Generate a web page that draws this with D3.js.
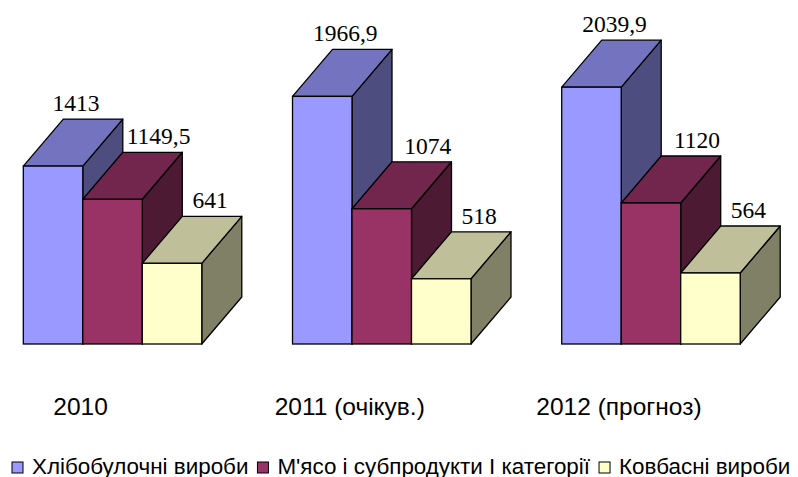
<!DOCTYPE html>
<html>
<head>
<meta charset="utf-8">
<script src="https://cdn.jsdelivr.net/npm/d3@7"></script>
<style>
  body { margin: 0; background: #fff; }
  svg { display: block; }
</style>
</head>
<body>
<svg id="chart" width="798" height="477"></svg>
<script>
// data
var years = ["2010", "2011 (очікув.)", "2012 (прогноз)"];
var seriesNames = ["Хлібобулочні вироби", "М'ясо і субпродукти І категорії", "Ковбасні вироби"];
var bread   = [1413, 1966.9, 2039.9];
var meat    = [1149.5, 1074, 1120];
var sausage = [641, 518, 564];
var valueLabels = [["1413", "1966,9", "2039,9"], ["1149,5", "1074", "1120"], ["641", "518", "564"]];

var seriesValues = [bread, meat, sausage];

// colours: front, top, side
var colors = [
    { front: "#9999ff", top: "#7373bf", side: "#4d4d80" },
    { front: "#993366", top: "#73264d", side: "#4d1a33" },
    { front: "#ffffcc", top: "#bfbf99", side: "#808066" }
];

var svg = d3.select("#chart");

var base = 344;      // floor line of the bars
var depthX = 40, depthY = 47;  // oblique depth of each box

var y = d3.scaleLinear().domain([0, 2200]).range([base, base - 2200 * 0.1259]);

// group step ~269px, front width of a group ~178px
var x = d3.scaleBand()
    .domain(years)
    .range([23.3, 23.3 + 2 * 269.2 + 178.5])
    .paddingInner(0.337)
    .paddingOuter(0)
    .align(0);

var xs = d3.scaleBand()
    .domain(d3.range(seriesNames.length))
    .range([0, x.bandwidth()]);

// label shift from front centre, per series (Excel nudged them off the boxes)
var labelShift = [23, 46, 38];

years.forEach(function(yr, gi) {
    var g = svg.append("g");
    seriesValues.forEach(function(vals, si) {
        var x0 = x(yr) + xs(si), x1 = x0 + xs.bandwidth();
        var yt = y(vals[gi]);
        var c = colors[si];
        var pts = function(arr) { return arr.map(function(p) { return p.join(","); }).join(" "); };
        // side
        g.append("polygon")
            .attr("points", pts([[x1, yt], [x1 + depthX, yt - depthY], [x1 + depthX, base - depthY], [x1, base]]))
            .attr("fill", c.side).attr("stroke", "#000").attr("stroke-width", 1.3).attr("stroke-linejoin", "round");
        // top
        g.append("polygon")
            .attr("points", pts([[x0, yt], [x0 + depthX, yt - depthY], [x1 + depthX, yt - depthY], [x1, yt]]))
            .attr("fill", c.top).attr("stroke", "#000").attr("stroke-width", 1.3).attr("stroke-linejoin", "round");
        // front
        g.append("rect")
            .attr("x", x0).attr("y", yt)
            .attr("width", x1 - x0).attr("height", base - yt)
            .attr("fill", c.front).attr("stroke", "#000").attr("stroke-width", 1.3);
    });
    // value labels on top of everything in the group
    seriesValues.forEach(function(vals, si) {
        var x0 = x(yr) + xs(si);
        g.append("text")
            .attr("x", x0 + xs.bandwidth() / 2 + labelShift[si])
            .attr("y", y(vals[gi]) - depthY - 8)
            .attr("text-anchor", "middle")
            .attr("font-family", "'Liberation Serif', 'Times New Roman', serif")
            .attr("font-size", 23.5)
            .attr("fill", "#000")
            .text(valueLabels[si][gi]);
    });
});

// category labels under each group
svg.selectAll(".year")
    .data(years)
    .enter()
    .append("text")
    .attr("class", "year")
    .attr("x", function(d) { return x(d) + x.bandwidth() / 2 - 32; })
    .attr("y", 415)
    .attr("text-anchor", "middle")
    .attr("font-family", "'Liberation Sans', Arial, sans-serif")
    .attr("font-size", 24.5)
    .attr("fill", "#000")
    .text(function(d) { return d; });

// legend
var legend = svg.append("g");
var lx = 12;
seriesNames.forEach(function(name, i) {
    legend.append("rect")
        .attr("x", lx).attr("y", 462)
        .attr("width", 11).attr("height", 11)
        .attr("fill", colors[i].front)
        .attr("stroke", "#000").attr("stroke-width", 1);
    var t = legend.append("text")
        .attr("x", lx + 20)
        .attr("y", 473.5)
        .attr("font-family", "'Liberation Sans', Arial, sans-serif")
        .attr("font-size", 22.4)
        .attr("fill", "#000")
        .text(name);
    lx += 20 + t.node().getComputedTextLength() + 9;
});
</script>
</body>
</html>
